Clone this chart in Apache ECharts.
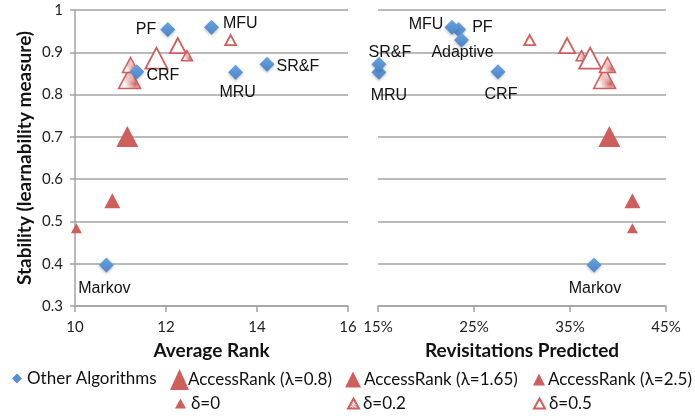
<!DOCTYPE html>
<html>
<head>
<meta charset="utf-8">
<script src="https://cdn.jsdelivr.net/npm/echarts@6/dist/echarts.min.js"></script>
<style>
  html, body { margin: 0; padding: 0; background: #fff; }
  #chart { width: 695px; height: 416px; }
</style>
</head>
<body>
<div id="chart"></div>
<script>
// Other algorithms: stability vs. average rank and vs. share of revisitations predicted
const otherNames     = ['PF', 'MFU', 'CRF', 'MRU', 'SR&F', 'Markov', 'Adaptive'];
const otherAvgRank   = [12.04, 13.00, 11.36, 13.53, 14.22, 10.69, null];
const otherRevisits  = [23.4, 22.7, 27.5, 15.1, 15.1, 37.5, 23.7];
const otherStability = [0.954, 0.959, 0.854, 0.853, 0.872, 0.397, 0.929];

// AccessRank runs: rows follow deltas, columns follow lambdas
const lambdas = [0.8, 1.65, 2.5];
const deltas  = [0, 0.2, 0.5];
const arAvgRank = [
  [11.15, 10.82, 10.03],
  [11.20, 11.22, 12.46],
  [11.79, 12.26, 13.42]
];
const arRevisits = [
  [39.1, 41.5, 41.5],
  [38.6, 38.9, 36.2],
  [37.1, 34.7, 30.8]
];
const arStability = [
  [0.701, 0.549, 0.484],
  [0.839, 0.870, 0.892],
  [0.886, 0.916, 0.929]
];

// Axis ranges
const rankTicks      = [10, 12, 14, 16];
const revisitTicks   = [15, 25, 35, 45];
const stabilityTicks = [0.3, 0.4, 0.5, 0.6, 0.7, 0.8, 0.9, 1];

// ---- styling ----
const RED = '#cf5f5c';
const GRID_GRAY = '#a3a3a3';
const LABEL_FONT = '"Liberation Sans", Arial, sans-serif';
const UI_FONT = 'Lato, "Open Sans", sans-serif';

// triangle marker size per lambda (bigger = smaller lambda)
const triSizes = [[22, 21], [16, 15], [11, 10]];

// dotted fill used for delta = 0.2
function dottedPattern() {
  const c = document.createElement('canvas');
  c.width = 3; c.height = 3;
  const g = c.getContext('2d');
  g.fillStyle = '#ffffff';
  g.fillRect(0, 0, 3, 3);
  g.fillStyle = RED;
  g.fillRect(0, 0, 1, 1);
  g.fillRect(1, 1, 1, 1);
  g.fillStyle = 'rgba(207,95,92,0.6)';
  g.fillRect(2, 2, 1, 1);
  return c;
}
const dotted = { image: dottedPattern(), repeat: 'repeat' };

const deltaStyles = [
  { color: RED, borderColor: RED, borderWidth: 0 },
  { color: dotted, borderColor: RED, borderWidth: 1.5 },
  { color: '#ffffff', borderColor: RED, borderWidth: 1.8 }
];

// label placement for each algorithm name in the two panels
const labelLeft = {
  'PF':     { position: 'left', distance: 4, offset: [0, 0] },
  'MFU':    { position: 'right', distance: 4, offset: [0, -4] },
  'CRF':    { position: 'right', distance: 2, offset: [0, 4] },
  'MRU':    { position: 'inside', offset: [2, 20] },
  'SR&F':   { position: 'right', distance: 2, offset: [0, 2] },
  'Markov': { position: 'inside', offset: [-2, 24] }
};
const labelRight = {
  'PF':       { position: 'right', distance: 6, offset: [0, -2] },
  'MFU':      { position: 'left', distance: 1, offset: [0, -3] },
  'CRF':      { position: 'inside', offset: [3, 23] },
  'MRU':      { position: 'inside', offset: [10, 23] },
  'SR&F':     { position: 'inside', offset: [11, -12] },
  'Markov':   { position: 'inside', offset: [1, 24] },
  'Adaptive': { position: 'inside', offset: [1, 13] }
};

function otherData(xs, placement) {
  const out = [];
  otherNames.forEach((n, i) => {
    if (xs[i] == null) return;
    const p = placement[n];
    out.push({
      value: [xs[i], otherStability[i]],
      name: n,
      label: Object.assign({ show: true }, p)
    });
  });
  return out;
}

function deltaSeries(xs, di, axisIdx) {
  return {
    name: 'δ=' + deltas[di],
    type: 'scatter',
    xAxisIndex: axisIdx,
    yAxisIndex: axisIdx,
    symbol: 'triangle',
    data: lambdas.map((l, li) => ({
      value: [xs[di][li], arStability[di][li]],
      symbolSize: triSizes[li]
    })),
    itemStyle: Object.assign({ opacity: 1 }, deltaStyles[di]),
    emphasis: { disabled: true },
    z: 2
  };
}

function otherSeries(data, axisIdx) {
  return {
    name: 'Other Algorithms',
    type: 'scatter',
    xAxisIndex: axisIdx,
    yAxisIndex: axisIdx,
    symbol: 'diamond',
    symbolSize: 15,
    data: data,
    itemStyle: {
      color: new echarts.graphic.LinearGradient(0, 0, 0, 1, [
        { offset: 0, color: '#6aa3e0' },
        { offset: 1, color: '#4a85c9' }
      ]),
      opacity: 1,
      shadowColor: 'rgba(0,0,0,0.25)',
      shadowBlur: 3,
      shadowOffsetY: 1.5
    },
    label: {
      formatter: p => p.name,
      color: '#111',
      fontSize: 16,
      fontFamily: LABEL_FONT
    },
    emphasis: { disabled: true },
    z: 3
  };
}

const axisLabelStyle = { color: '#222', fontSize: 15, fontFamily: UI_FONT };
const axisNameStyle = { color: '#111', fontSize: 19, fontWeight: 'bold', fontFamily: UI_FONT };
const grayLine = { color: GRID_GRAY, width: 1.5 };

const series = [];
deltas.forEach((d, di) => series.push(deltaSeries(arAvgRank, di, 0)));
deltas.forEach((d, di) => series.push(deltaSeries(arRevisits, di, 1)));
series.push(otherSeries(otherData(otherAvgRank, labelLeft), 0));
series.push(otherSeries(otherData(otherRevisits, labelRight), 1));
lambdas.forEach((l, li) => series.push({
  name: 'AccessRank (λ=' + l + ')',
  type: 'scatter',
  symbol: 'triangle',
  data: [],
  itemStyle: { color: RED, opacity: 1 }
}));

// legend entries, each placed on its own so icon sizes can differ
function legendEntry(name, icon, left, top, w, h, pull, itemStyle) {
  const item = { name: name, icon: icon };
  if (itemStyle) item.itemStyle = itemStyle;
  return {
    data: [item],
    left: left,
    top: top,
    itemWidth: w,
    itemHeight: h,
    padding: 0,
    selectedMode: false,
    textStyle: {
      color: '#111', fontSize: 17, fontFamily: UI_FONT,
      padding: [0, 0, 0, -pull]
    }
  };
}
const solidRed = { color: RED, opacity: 1, borderWidth: 0 };
const legends = [
  legendEntry('Other Algorithms', 'diamond', 12, 370, 10, 10, 0, { color: '#5590d4', opacity: 1 }),
  legendEntry('AccessRank (λ=0.8)', 'triangle', 170, 369, 19, 21, 6, solidRed),
  legendEntry('AccessRank (λ=1.65)', 'triangle', 345, 371, 16, 16, 2, solidRed),
  legendEntry('AccessRank (λ=2.5)', 'triangle', 533, 371, 12, 12, 2, solidRed),
  legendEntry('δ=0', 'triangle', 175, 395, 11, 10, 0, solidRed),
  legendEntry('δ=0.2', 'triangle', 347, 395, 11, 10, 1),
  legendEntry('δ=0.5', 'triangle', 533, 395, 11, 10, 1)
];

const chart = echarts.init(document.getElementById('chart'), null, { renderer: 'canvas' });
chart.setOption({
  animation: false,
  backgroundColor: '#ffffff',
  grid: [
    { left: 75, top: 10, width: 273, height: 296 },
    { left: 378, top: 10, width: 288, height: 296 }
  ],
  xAxis: [
    {
      gridIndex: 0, type: 'value',
      min: rankTicks[0], max: rankTicks[rankTicks.length - 1], interval: 2,
      name: 'Average Rank', nameLocation: 'middle', nameGap: 35, nameTextStyle: axisNameStyle,
      axisLine: { show: true, lineStyle: grayLine },
      axisTick: { show: true, length: 6, lineStyle: grayLine },
      axisLabel: Object.assign({ margin: 14 }, axisLabelStyle),
      splitLine: { show: false }
    },
    {
      gridIndex: 1, type: 'value',
      min: revisitTicks[0], max: revisitTicks[revisitTicks.length - 1], interval: 10,
      name: 'Revisitations Predicted', nameLocation: 'middle', nameGap: 35, nameTextStyle: axisNameStyle,
      axisLine: { show: true, lineStyle: grayLine },
      axisTick: { show: true, length: 6, lineStyle: grayLine },
      axisLabel: Object.assign({ margin: 14, formatter: v => v + '%' }, axisLabelStyle),
      splitLine: { show: false }
    }
  ],
  yAxis: [
    {
      gridIndex: 0, type: 'value',
      min: stabilityTicks[0], max: stabilityTicks[stabilityTicks.length - 1], interval: 0.1,
      name: 'Stability (learnability measure)', nameLocation: 'middle', nameGap: 41,
      nameRotate: 90, nameTextStyle: axisNameStyle,
      axisLine: { show: true, lineStyle: grayLine },
      axisTick: { show: true, length: 5, lineStyle: grayLine },
      axisLabel: Object.assign({ margin: 12, formatter: v => (Math.round(v * 10) / 10).toString() }, axisLabelStyle),
      splitLine: { show: true, lineStyle: grayLine }
    },
    {
      gridIndex: 1, type: 'value',
      min: stabilityTicks[0], max: stabilityTicks[stabilityTicks.length - 1], interval: 0.1,
      axisLine: { show: false },
      axisTick: { show: false },
      axisLabel: { show: false },
      splitLine: { show: true, lineStyle: grayLine }
    }
  ],
  legend: legends,
  series: series
});
</script>
</body>
</html>
